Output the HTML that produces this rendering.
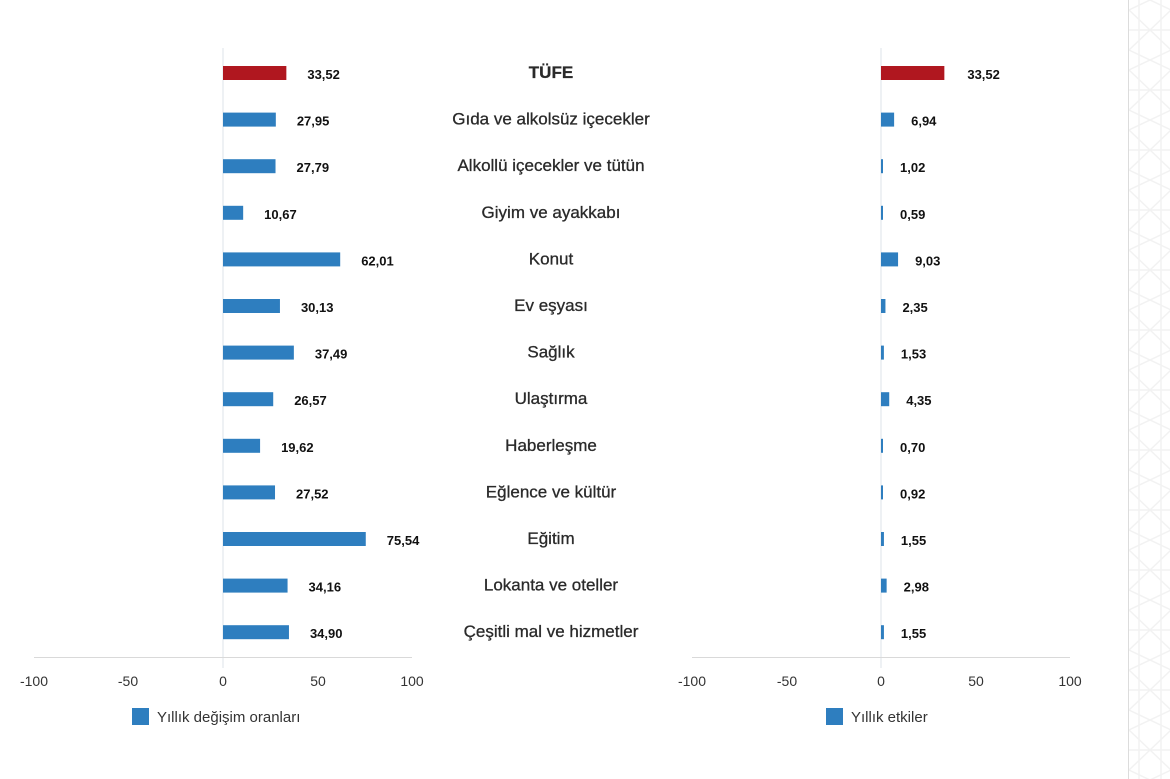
<!DOCTYPE html>
<html><head><meta charset="utf-8"><style>
body{margin:0;background:#fff;width:1170px;height:779px;overflow:hidden}
svg{display:block}
</style></head><body>
<svg width="1170" height="779" xmlns="http://www.w3.org/2000/svg" font-family="Liberation Sans, sans-serif">
<defs>
<pattern id="p" x="1129" y="0" width="42" height="60" patternUnits="userSpaceOnUse">
<path d="M0 10 L21 0 L42 10 M0 50 L21 60 L42 50 M10 0 L10 60 M32 0 L32 60 M0 30 L42 30 M0 10 L21 30 L42 10 M0 50 L21 30 L42 50" stroke="#f2f2f2" stroke-width="1.5" fill="none"/>
</pattern>
</defs>
<rect x="1129" y="0" width="41" height="779" fill="url(#p)"/>
<line x1="1128.5" y1="0" x2="1128.5" y2="779" stroke="#dcdcdc"/>
<line x1="223" y1="48" x2="223" y2="668" stroke="#dde3ea"/>
<line x1="881" y1="48" x2="881" y2="668" stroke="#dde3ea"/>
<line x1="34" y1="657.5" x2="412" y2="657.5" stroke="#d9d9d9"/>
<line x1="692" y1="657.5" x2="1070" y2="657.5" stroke="#d9d9d9"/>
<g font-size="14" fill="#333" text-anchor="middle">
<text x="34" y="686">-100</text><text x="128" y="686">-50</text><text x="223" y="686">0</text><text x="318" y="686">50</text><text x="412" y="686">100</text>
<text x="692" y="686">-100</text><text x="787" y="686">-50</text><text x="881" y="686">0</text><text x="976" y="686">50</text><text x="1070" y="686">100</text>
</g>
<rect x="132" y="708" width="17" height="17" fill="#2e7ebf"/>
<text x="157" y="722" font-size="15" fill="#333">Yıllık değişim oranları</text>
<rect x="826" y="708" width="17" height="17" fill="#2e7ebf"/>
<text x="851" y="722" font-size="15" fill="#333">Yıllık etkiler</text>
<g id="rows"></g>
</svg>
<script>
const d=[["TÜFE",33.52,33.52],["Gıda ve alkolsüz içecekler",27.95,6.94],["Alkollü içecekler ve tütün",27.79,1.02],["Giyim ve ayakkabı",10.67,0.59],["Konut",62.01,9.03],["Ev eşyası",30.13,2.35],["Sağlık",37.49,1.53],["Ulaştırma",26.57,4.35],["Haberleşme",19.62,0.70],["Eğlence ve kültür",27.52,0.92],["Eğitim",75.54,1.55],["Lokanta ve oteller",34.16,2.98],["Çeşitli mal ve hizmetler",34.90,1.55]];
const f=v=>v.toFixed(2).replace('.',',');
let s='';
d.forEach((r,i)=>{const y=73+i*46.6;const c=i==0?'#b0171f':'#2e7ebf';
const w1=r[1]*1.89,w2=r[2]*1.89;
s+=`<rect x="223" y="${y-7}" width="${w1}" height="14" fill="${c}"/>`;
s+=`<text x="${223+w1+21}" y="${y+6}" font-size="13" font-weight="bold" fill="#111">${f(r[1])}</text>`;
s+=`<rect x="881" y="${y-7}" width="${Math.max(w2,2)}" height="14" fill="${c}"/>`;
s+=`<text x="${881+Math.max(w2,2)+(i==0?23:17)}" y="${y+6}" font-size="13" font-weight="bold" fill="#111">${f(r[2])}</text>`;
s+=`<text x="551" y="${y+5}" font-size="17" text-anchor="middle" fill="#2a2a2a" stroke="#2a2a2a" stroke-width="0.3" ${i==0?'font-weight="bold"':''}>${r[0]}</text>`;});
document.getElementById('rows').innerHTML=s;
</script>
</body></html>
